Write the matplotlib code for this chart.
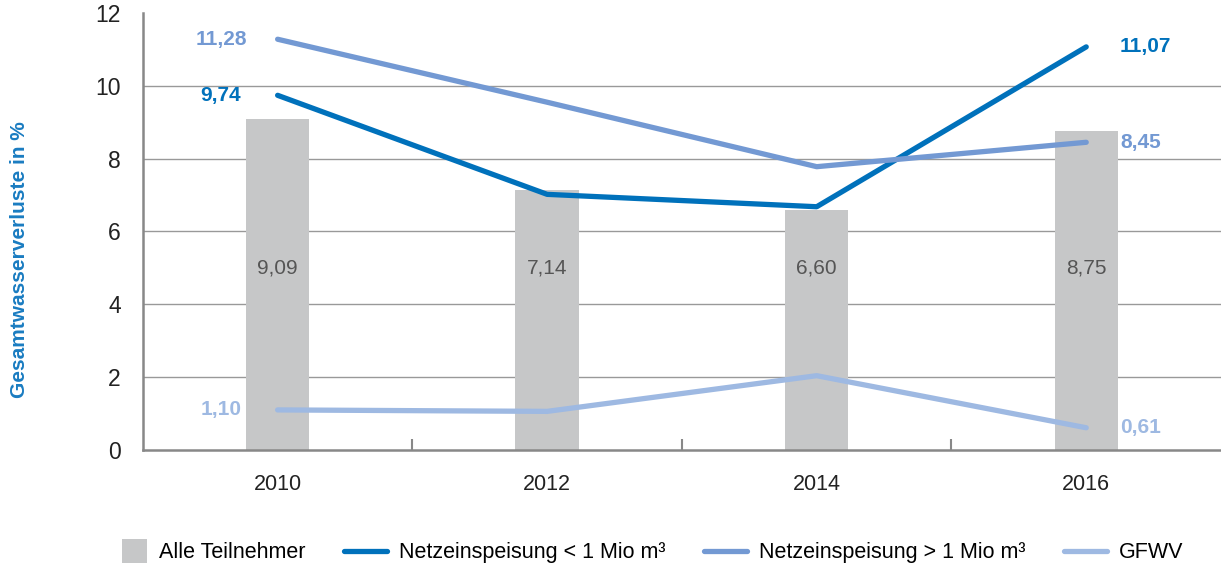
import numpy as np
import matplotlib.pyplot as plt
import matplotlib.patches as mpatches
from matplotlib.legend_handler import HandlerPatch
from matplotlib.ticker import FixedLocator

plt.rcParams['font.family'] = ['Liberation Sans', 'DejaVu Sans']

years = ["2010", "2012", "2014", "2016"]
alle = [9.09, 7.14, 6.60, 8.75]
netz_klein = [9.74, 7.02, 6.68, 11.07]
netz_gross = [11.28, 9.55, 7.78, 8.45]
gfwv = [1.10, 1.06, 2.04, 0.61]

alle_labels = ["9,09", "7,14", "6,60", "8,75"]

c_bar = "#c6c7c8"
c_klein = "#0071bb"
c_gross = "#7399d3"
c_gfwv = "#9eb9e2"

fig = plt.figure(figsize=(12.21, 5.66), dpi=100)
ax = fig.add_axes([0.117, 0.205, 0.883, 0.772])

x = np.arange(len(years))
bars = ax.bar(x, alle, width=0.235, color=c_bar, label="Alle Teilnehmer", zorder=2)
for xi, lab in zip(x, alle_labels):
    ax.text(xi, 5.0, lab, ha="center", va="center", fontsize=15, color="#555555", zorder=3)

l1, = ax.plot(x, netz_klein, color=c_klein, lw=3.8, solid_capstyle="round", zorder=4,
              label="Netzeinspeisung < 1 Mio m³")
l2, = ax.plot(x, netz_gross, color=c_gross, lw=3.8, solid_capstyle="round", zorder=4,
              label="Netzeinspeisung > 1 Mio m³")
l3, = ax.plot(x, gfwv, color=c_gfwv, lw=3.8, solid_capstyle="round", zorder=3, label="GFWV")

# end labels
for vals, col in [(netz_klein, c_klein), (netz_gross, c_gross), (gfwv, c_gfwv)]:
    ax.text(x[0] - 0.21, vals[0], f"{vals[0]:.2f}".replace(".", ","), ha="center", va="center",
            fontsize=15, fontweight="bold", color=col)
    ax.text(x[-1] + 0.125, vals[-1], f"{vals[-1]:.2f}".replace(".", ","), ha="left", va="center",
            fontsize=15, fontweight="bold", color=col)

ax.set_xlim(-0.5, 3.5)
ax.set_ylim(0, 12)
ax.set_yticks(np.arange(0, 13, 2))
ax.set_xticks(x)
ax.set_xticklabels(years)
ax.xaxis.set_minor_locator(FixedLocator([0.5, 1.5, 2.5]))
ax.tick_params(axis="x", which="major", length=0, pad=17, labelsize=15.5, labelcolor="#222222")
ax.tick_params(axis="x", which="minor", direction="in", length=8, width=1.5, color="#888888")
ax.tick_params(axis="y", length=0, pad=16, labelsize=16.5, labelcolor="#222222")

for yv in [2, 4, 6, 8, 10]:
    ax.axhline(yv, color="#999999", lw=1, zorder=1)

for s in ["top", "right"]:
    ax.spines[s].set_visible(False)
for s in ["left", "bottom"]:
    ax.spines[s].set_color("#888888")
    ax.spines[s].set_linewidth(1.8)

fig.text(0.016, 0.542, "Gesamtwasserverluste in %", rotation=90, ha="center", va="center",
         fontsize=15, fontweight="bold", color="#1a7cc1")


def square_patch(legend, orig_handle, xdescent, ydescent, width, height, fontsize):
    h = fontsize * 1.15
    return mpatches.Rectangle((-xdescent + width - h, -ydescent + 0.5 * height - 0.5 * h), h, h)


fig.legend([bars.patches[0], l1, l2, l3],
           ["Alle Teilnehmer", "Netzeinspeisung < 1 Mio m³", "Netzeinspeisung > 1 Mio m³", "GFWV"],
           loc="center", ncol=4, frameon=False, fontsize=15.5, bbox_to_anchor=(0.527, 0.023),
           handlelength=2.0, columnspacing=1.8, handletextpad=0.55,
           handler_map={mpatches.Rectangle: HandlerPatch(patch_func=square_patch)})

fig.savefig("out.png", dpi=100)
